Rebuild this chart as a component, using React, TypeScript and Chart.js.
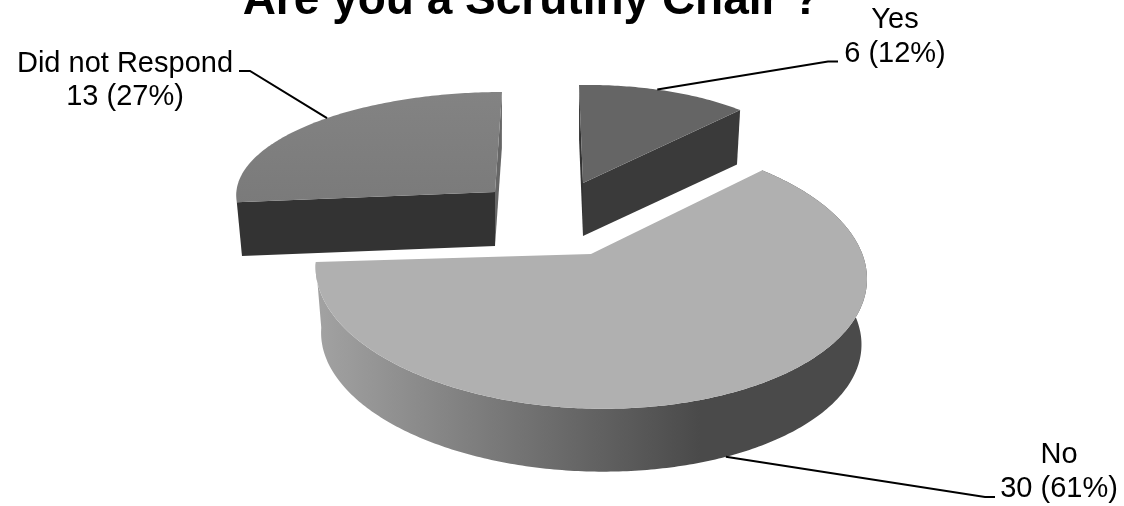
import React, { useEffect, useRef } from "react";
import { Chart, registerables } from "chart.js";

Chart.register(...registerables);

const TITLE = "Are you a Scrutiny Chair ?";
const categories = ["Yes", "No", "Did not Respond"];
const counts = [6, 30, 13];
const percents = [12, 61, 27];
const topColors = ["#656565", "#b0b0b0", "#7e7e7e"];

// Projection of each slice's unit circle onto the page (a 3D look-alike).
const FONT = '"Liberation Sans", Arial, sans-serif';
const frames = [
  { ax: 583, ay: 183, xx: 230, xy: 4, yx: -3.6, yy: 98, k: 0, depth: 53, shrink: 0.98, cut: "#333333", side: "#3a3a3a", leader: 0.45, onBase: false },
  { ax: 591, ay: 254, xx: 273, xy: 2, yx: 5, yy: 133, k: 0.14, depth: 66, shrink: 0.98, cut: "#484848", side: "grad", leader: 0.5, onBase: true },
  { ax: 495, ay: 192, xx: 258.7, xy: -7, yx: -0.55, yy: 100, k: 0, depth: 54, shrink: 0.98, cut: "#333333", side: "#666666", leader: 0.56, onBase: false },
];
const labelLayout = [
  { cx: 895, base1: 28, base2: 62, knee: [828, 61.5], end: [838, 61.5] },
  { cx: 1059, base1: 463, base2: 497, knee: [985, 497], end: [995, 497] },
  { cx: 125, base1: 72, base2: 105, knee: [250, 71], end: [239, 71] },
];

type F = (typeof frames)[number];

function rimTop(f: F, a: number): [number, number] {
  const X = Math.cos(a);
  const Y = Math.sin(a);
  const w = 1 - f.k * Y;
  return [f.ax + (f.xx * X + f.xy * Y) / w, f.ay + (f.yx * X + f.yy * Y) / w];
}
function rimBase(f: F, a: number): [number, number] {
  const p = rimTop(f, a);
  return [f.ax + (p[0] - f.ax) * f.shrink, f.ay + f.depth + (p[1] - f.ay) * f.shrink];
}
function sampled(a0: number, a1: number): number[] {
  const n = Math.max(2, Math.ceil(Math.abs(a1 - a0) / (Math.PI / 240)));
  const out: number[] = [];
  for (let i = 0; i <= n; i++) out.push(a0 + ((a1 - a0) * i) / n);
  return out;
}
function poly(ctx: CanvasRenderingContext2D, pts: [number, number][], fill: string | CanvasGradient) {
  ctx.beginPath();
  pts.forEach((p, i) => (i ? ctx.lineTo(p[0], p[1]) : ctx.moveTo(p[0], p[1])));
  ctx.closePath();
  ctx.fillStyle = fill;
  ctx.fill();
}

const pie3d = {
  id: "pie3d",
  beforeDatasetDraw(chart: any, args: any) {
    const ctx: CanvasRenderingContext2D = chart.ctx;
    const arcs = args.meta.data;
    ctx.save();
    [2, 0, 1].forEach((i) => {
      const f = frames[i];
      const { startAngle, endAngle } = arcs[i].getProps(["startAngle", "endAngle"]);
      const o = arcs[i].options;
      const angles = sampled(startAngle, endAngle);
      const apexTop: [number, number] = [f.ax, f.ay];
      const apexBase: [number, number] = [f.ax, f.ay + f.depth];
      let sideFill: string | CanvasGradient = f.side;
      if (f.side === "grad") {
        const g = ctx.createLinearGradient(318, 0, 700, 0);
        g.addColorStop(0, "#a2a2a2");
        g.addColorStop(1, "#4a4a4a");
        sideFill = g;
      }
      if (i === 0) {
        poly(ctx, [apexTop, rimTop(f, startAngle), rimBase(f, startAngle), apexBase], f.cut);
        poly(ctx, [apexTop, rimTop(f, endAngle), rimBase(f, endAngle), apexBase], f.side);
      } else if (i === 2) {
        poly(ctx, [apexTop, rimTop(f, endAngle), rimBase(f, endAngle), apexBase], f.side);
        poly(ctx, [apexTop, rimTop(f, startAngle), rimBase(f, startAngle), apexBase], f.cut);
      } else {
        const strip = [...angles.map((a) => rimTop(f, a)), ...angles.slice().reverse().map((a) => rimBase(f, a))];
        poly(ctx, strip, sideFill);
      }
      let topFill: string | CanvasGradient = o.backgroundColor;
      if (i === 2) {
        const g = ctx.createLinearGradient(0, 92, 0, 205);
        g.addColorStop(0, "#838383");
        g.addColorStop(1, "#7a7a7a");
        topFill = g;
      }
      poly(ctx, [apexTop, ...angles.map((a) => rimTop(f, a))], topFill);
    });
    ctx.restore();
    return false;
  },
  afterDatasetsDraw(chart: any) {
    const ctx: CanvasRenderingContext2D = chart.ctx;
    const arcs = chart.getDatasetMeta(0).data;
    ctx.save();
    ctx.strokeStyle = "#000000";
    ctx.lineWidth = 2;
    ctx.fillStyle = "#000000";
    ctx.textAlign = "center";
    ctx.textBaseline = "alphabetic";
    ctx.font = `29px ${FONT}`;
    categories.forEach((name, i) => {
      const f = frames[i];
      const l = labelLayout[i];
      const { startAngle, endAngle } = arcs[i].getProps(["startAngle", "endAngle"]);
      const a = startAngle + (endAngle - startAngle) * f.leader;
      const s = f.onBase ? rimBase(f, a) : rimTop(f, a);
      ctx.beginPath();
      ctx.moveTo(s[0], s[1]);
      ctx.lineTo(l.knee[0], l.knee[1]);
      ctx.lineTo(l.end[0], l.end[1]);
      ctx.stroke();
      ctx.fillText(name, l.cx, l.base1);
      ctx.fillText(`${counts[i]} (${percents[i]}%)`, l.cx, l.base2);
    });
    ctx.font = `bold 46px ${FONT}`;
    ctx.fillText(TITLE, 531.5, 14);
    ctx.restore();
  },
};

export default function App() {
  const ref = useRef<HTMLCanvasElement>(null);
  useEffect(() => {
    const chart = new Chart(ref.current!, {
      type: "pie",
      data: {
        labels: categories,
        datasets: [{ data: counts, backgroundColor: topColors, borderWidth: 0 }],
      },
      options: {
        animation: false,
        responsive: false,
        maintainAspectRatio: false,
        plugins: { legend: { display: false }, tooltip: { enabled: false }, title: { display: false } },
      },
      plugins: [pie3d],
    } as any);
    return () => chart.destroy();
  }, []);
  return (
    <div style={{ position: "absolute", left: 0, top: 0, width: 1124, height: 506, background: "#ffffff" }}>
      <canvas ref={ref} width={1124} height={506} style={{ display: "block" }} />
    </div>
  );
}
